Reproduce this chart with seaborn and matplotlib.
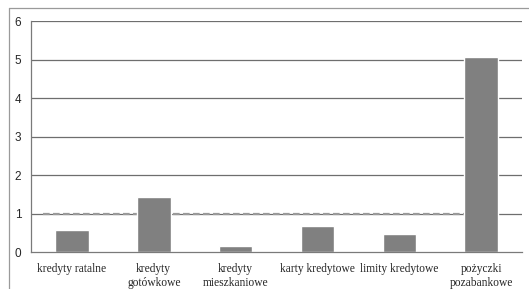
import matplotlib
matplotlib.use("Agg")
import matplotlib.pyplot as plt
import seaborn as sns
import pandas as pd
from matplotlib.lines import Line2D

categories = ["kredyty ratalne", "kredyty\ngotówkowe", "kredyty\nmieszkaniowe",
              "karty kredytowe", "limity kredytowe", "pożyczki\npozabankowe"]
values = [0.57, 1.43, 0.15, 0.68, 0.47, 5.08]
ref_level = 1.0
yticks = [0, 1, 2, 3, 4, 5, 6]

df = pd.DataFrame({"kategoria": categories, "wartosc": values})

sns.set_style("white")
fig = plt.figure(figsize=(5.29, 2.89), dpi=100)
ax = fig.add_axes([0.0586, 0.128, 0.9284, 0.799])

# siatka pod słupkami
for y in yticks[1:]:
    ax.axhline(y, color="#6e6e6e", lw=0.9, zorder=0)

sns.barplot(data=df, x="kategoria", y="wartosc", color="#808080", width=0.41,
            saturation=1, ax=ax, zorder=2)

# linia przerywana na poziomie 1
ax.hlines(ref_level, -0.35, 4.82, colors="#9a9a9a", linestyles=(0, (3, 1.5)),
          lw=1.6, zorder=1)

ax.set_ylim(0, 6)
ax.set_xlim(-0.5, 5.5)
ax.set_yticks(yticks)
ax.set_xlabel("")
ax.set_ylabel("")
ax.set_xticks(range(len(categories)))
ax.set_xticklabels(categories, linespacing=1.2)
ax.set_xticks([i + 0.5 for i in range(-1, 6)], minor=True)
ax.tick_params(axis="x", which="major", length=0, pad=8)
ax.tick_params(axis="x", which="minor", length=3, color="#555555", direction="out")
ax.tick_params(axis="y", length=3, color="#7a7a7a", pad=4, direction="out")
for lab in ax.get_xticklabels():
    lab.set_fontfamily("Liberation Serif")
    lab.set_fontsize(8.3)
for lab in ax.get_yticklabels():
    lab.set_fontfamily("Liberation Sans")
    lab.set_fontsize(8.5)

sns.despine(ax=ax, top=True, right=True)
ax.spines["left"].set_color("#7a7a7a")
ax.spines["bottom"].set_color("#7a7a7a")
ax.spines["left"].set_linewidth(0.9)
ax.spines["bottom"].set_linewidth(0.9)

# ramka strony
fig.add_artist(Line2D([0.017, 1.0], [0.972, 0.972], color="#9a9a9a", lw=0.9))
fig.add_artist(Line2D([0.017, 0.017], [0.0, 0.972], color="#9a9a9a", lw=0.9))

fig.savefig("out.png", dpi=100)
